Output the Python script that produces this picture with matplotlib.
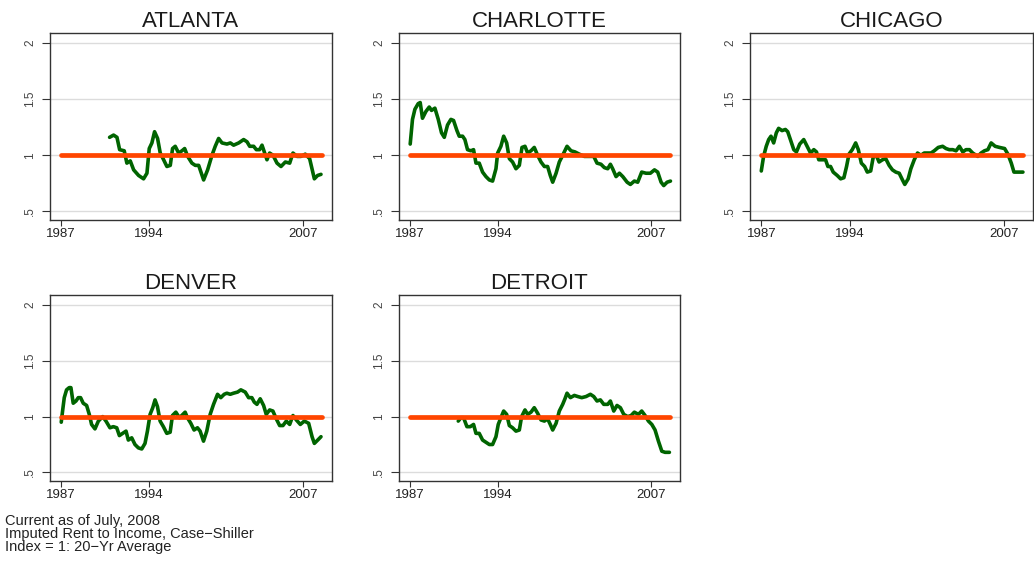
import matplotlib
matplotlib.use("Agg")
from matplotlib import pyplot as plt

plt.rcParams['font.family'] = ['Liberation Sans', 'DejaVu Sans']

# years after 1987 and the index value
atl_t = [4.0, 4.33, 4.61, 4.83, 5.21, 5.43, 5.71, 5.99, 6.40, 6.81, 7.09, 7.28, 7.50, 7.72,
         7.97, 8.19, 8.47, 8.74, 9.02, 9.21, 9.43, 9.71, 9.99, 10.21, 10.46, 10.81, 11.09,
         11.37, 11.78, 12.11, 12.47, 12.74, 13.02, 13.30, 13.71, 13.99, 14.26, 14.68, 15.09,
         15.37, 15.59, 15.92, 16.14, 16.41, 16.61, 17.02, 17.24, 17.52, 17.85, 18.18, 18.54,
         18.90, 19.17, 19.50, 19.83, 20.19, 20.55, 20.94, 21.21, 21.49]
atl_v = [1.16, 1.18, 1.16, 1.05, 1.04, 0.93, 0.95, 0.87, 0.82, 0.79, 0.84, 1.06, 1.11, 1.21,
         1.15, 1.02, 0.96, 0.90, 0.91, 1.06, 1.08, 1.02, 1.04, 1.06, 0.99, 0.93, 0.91,
         0.91, 0.78, 0.87, 1.00, 1.08, 1.15, 1.11, 1.10, 1.11, 1.09, 1.11, 1.14,
         1.12, 1.08, 1.08, 1.05, 1.05, 1.09, 0.96, 1.02, 1.00, 0.93, 0.90, 0.94,
         0.93, 1.02, 0.99, 0.99, 1.01, 0.97, 0.79, 0.82, 0.83]

clt_t = [0.0, 0.19, 0.39, 0.66, 0.83, 1.02, 1.30, 1.58, 1.77, 2.05, 2.33, 2.60, 2.83, 3.10,
         3.38, 3.60, 3.88, 4.07, 4.35, 4.54, 4.76, 5.04, 5.26, 5.46, 5.73, 6.01, 6.29, 6.57,
         6.84, 7.12, 7.26, 7.53, 7.76, 8.01, 8.23, 8.50, 8.78, 9.06, 9.28, 9.53, 9.75, 10.03,
         10.30, 10.58, 10.86, 11.14, 11.41, 11.63, 11.83, 12.11, 12.38, 12.66, 13.02, 13.35,
         13.68, 14.04, 14.46, 14.88, 15.24, 15.51, 15.84, 16.12, 16.40, 16.62, 16.81, 17.09,
         17.37, 17.65, 18.01, 18.28, 18.61, 18.89, 19.22, 19.58, 19.94, 20.28, 20.55, 20.83,
         21.05, 21.33, 21.61]
clt_v = [1.10, 1.32, 1.41, 1.46, 1.47, 1.33, 1.39, 1.43, 1.40, 1.42, 1.32, 1.20, 1.16, 1.27,
         1.32, 1.31, 1.22, 1.17, 1.17, 1.14, 1.05, 1.04, 1.05, 0.93, 0.93, 0.85, 0.81, 0.78,
         0.77, 0.88, 1.02, 1.08, 1.17, 1.11, 0.97, 0.94, 0.88, 0.91, 1.07, 1.08, 1.02, 1.04,
         1.07, 1.00, 0.94, 0.90, 0.90, 0.82, 0.76, 0.84, 0.94, 1.00, 1.08, 1.04,
         1.03, 1.01, 0.99, 0.99, 0.99, 0.93, 0.92, 0.89, 0.88, 0.92, 0.88, 0.81,
         0.84, 0.81, 0.76, 0.74, 0.77, 0.76, 0.85, 0.84, 0.84, 0.87, 0.85, 0.76,
         0.73, 0.76, 0.77]

chi_t = [0.0, 0.19, 0.41, 0.61, 0.80, 1.02, 1.24, 1.43, 1.71, 1.99, 2.18, 2.40, 2.68, 2.90,
         3.17, 3.50, 3.78, 4.06, 4.33, 4.55, 4.74, 5.02, 5.30, 5.49, 5.71, 5.93, 6.26, 6.54,
         6.81, 7.03, 7.23, 7.50, 7.78, 8.00, 8.25, 8.52, 8.74, 9.02, 9.24, 9.52, 9.71, 9.99,
         10.26, 10.54, 10.81, 11.09, 11.37, 11.64, 11.83, 12.11, 12.33, 12.61, 12.88, 13.16,
         13.43, 13.71, 13.99, 14.26, 14.59, 14.95, 15.23, 15.50, 15.78, 16.06, 16.33, 16.61,
         16.88, 17.16, 17.43, 17.85, 18.12, 18.40, 18.68, 18.95, 19.28, 19.64, 20.06, 20.33,
         20.61, 20.83, 21.16, 21.57]
chi_v = [0.86, 0.99, 1.08, 1.14, 1.17, 1.11, 1.20, 1.24, 1.22, 1.23, 1.21, 1.14, 1.05, 1.03,
         1.10, 1.14, 1.08, 1.02, 1.05, 1.03, 0.96, 0.96, 0.96, 0.90, 0.90, 0.85, 0.82, 0.79,
         0.80, 0.90, 1.01, 1.05, 1.11, 1.05, 0.93, 0.90, 0.85, 0.86, 0.99, 0.99, 0.94, 0.96,
         0.97, 0.91, 0.87, 0.85, 0.84, 0.78, 0.74, 0.79, 0.88, 0.96, 1.02, 1.00,
         1.02, 1.02, 1.02, 1.04, 1.07, 1.08, 1.06, 1.05, 1.05, 1.04, 1.08, 1.03,
         1.05, 1.05, 1.02, 0.99, 1.02, 1.04, 1.05, 1.11, 1.08, 1.07, 1.06, 1.01,
         0.93, 0.85, 0.85, 0.85]

den_t = [0.0, 0.11, 0.25, 0.44, 0.66, 0.80, 0.99, 1.22, 1.41, 1.60, 1.82, 2.10, 2.32, 2.51,
         2.79, 3.07, 3.43, 3.70, 4.03, 4.31, 4.59, 4.81, 5.08, 5.36, 5.55, 5.83, 6.10, 6.38,
         6.66, 6.93, 7.13, 7.35, 7.57, 7.76, 7.96, 8.18, 8.45, 8.73, 9.01, 9.20, 9.48, 9.78,
         9.97, 10.25, 10.44, 10.72, 10.99, 11.27, 11.49, 11.77, 12.04, 12.32, 12.60, 12.93,
         13.20, 13.48, 13.70, 13.98, 14.25, 14.59, 14.86, 15.22, 15.50, 15.77, 15.97, 16.19,
         16.46, 16.74, 16.96, 17.24, 17.51, 17.79, 18.07, 18.34, 18.62, 18.90, 19.17, 19.45,
         19.78, 20.11, 20.47, 20.75, 20.94, 21.22, 21.49]
den_v = [0.95, 1.05, 1.17, 1.24, 1.26, 1.26, 1.12, 1.14, 1.17, 1.17, 1.12, 1.10, 1.02, 0.93,
         0.89, 0.96, 1.00, 0.96, 0.90, 0.91, 0.90, 0.83, 0.85, 0.87, 0.79, 0.81, 0.75, 0.72,
         0.71, 0.76, 0.87, 1.02, 1.08, 1.15, 1.09, 0.96, 0.91, 0.85, 0.86, 1.01, 1.04, 0.99,
         1.01, 1.04, 0.99, 0.94, 0.88, 0.90, 0.87, 0.78, 0.87, 1.02, 1.11, 1.20,
         1.17, 1.20, 1.21, 1.20, 1.21, 1.22, 1.24, 1.22, 1.17, 1.17, 1.13, 1.11,
         1.16, 1.10, 1.02, 1.06, 1.05, 0.98, 0.92, 0.92, 0.96, 0.93, 1.01, 0.97,
         0.93, 0.96, 0.94, 0.82, 0.76, 0.79, 0.82]

det_t = [3.99, 4.21, 4.43, 4.71, 4.99, 5.26, 5.46, 5.73, 6.01, 6.29, 6.57, 6.84, 7.12, 7.31,
         7.53, 7.76, 8.01, 8.23, 8.50, 8.78, 9.06, 9.25, 9.53, 9.75, 10.03, 10.30, 10.58,
         10.86, 11.14, 11.41, 11.63, 11.83, 12.11, 12.38, 12.66, 12.85, 13.02, 13.30, 13.63,
         13.91, 14.24, 14.60, 14.96, 15.24, 15.51, 15.79, 16.07, 16.40, 16.62, 16.90, 17.17,
         17.45, 17.73, 18.06, 18.34, 18.61, 18.95, 19.22, 19.50, 19.78, 20.06, 20.33, 20.61,
         20.89, 21.16, 21.52]
det_v = [0.96, 0.99, 0.99, 0.91, 0.91, 0.93, 0.85, 0.85, 0.79, 0.77, 0.75, 0.75, 0.82, 0.93,
         0.99, 1.05, 1.02, 0.92, 0.90, 0.87, 0.88, 1.00, 1.06, 1.02, 1.04, 1.08, 1.03,
         0.97, 0.96, 0.98, 0.93, 0.88, 0.94, 1.05, 1.11, 1.16, 1.21, 1.17, 1.19,
         1.18, 1.17, 1.18, 1.20, 1.18, 1.14, 1.15, 1.11, 1.11, 1.14, 1.05, 1.10,
         1.08, 1.02, 1.00, 1.01, 1.04, 1.02, 1.05, 1.01, 0.96, 0.93, 0.88, 0.78,
         0.69, 0.68, 0.68]

cities = ["ATLANTA", "CHARLOTTE", "CHICAGO", "DENVER", "DETROIT"]
series = [(atl_t, atl_v), (clt_t, clt_v), (chi_t, chi_v), (den_t, den_v), (det_t, det_v)]

base_year = 1987
avg_span = (1987, 2008.6)   # the 20-yr average line
avg_level = 1.0
y_ticks = [0.5, 1, 1.5, 2]
y_labels = [".5", "1", "1.5", "2"]
x_ticks = [1987, 1994.28, 2007]
x_labels = ["1987", "1994", "2007"]

note = ("Current as of July, 2008\n"
        "Imputed Rent to Income, Case\u2212Shiller\n"
        "Index = 1: 20\u2212Yr Average")

W, H = 1034, 561
# left, top, right, bottom in pixels for each panel
boxes = [(50, 33, 332, 220), (399, 33, 680, 220), (750, 33, 1033, 220),
         (50, 295, 332, 481), (399, 295, 680, 481)]


def draw_panel(ax, name, t, v):
    x = [base_year + a for a in t]
    ax.plot(avg_span, [avg_level, avg_level], color='#ff4500', lw=3.4,
            solid_capstyle='round', zorder=4)
    ax.plot(x, v, color='#006400', lw=2.6, solid_joinstyle='round',
            solid_capstyle='round', zorder=3)
    ax.set_xlim(1986.07, 2009.4)
    ax.set_ylim(0.423, 2.09)
    ax.set_yticks(y_ticks)
    ax.set_yticklabels(y_labels, rotation=90, va='center', color='#444444', fontsize=8.5)
    ax.set_xticks(x_ticks)
    ax.set_xticklabels(x_labels, fontsize=9.5, color='#222222')
    ax.tick_params(axis='y', length=6, width=0.8, color='#333333', pad=4)
    ax.tick_params(axis='x', length=4, width=0.8, color='#333333', pad=1.5)
    ax.grid(axis='y', color='#dcdcdc', lw=1.0, zorder=0)
    ax.set_axisbelow(True)
    for s in ax.spines.values():
        s.set_color('#333333')
        s.set_linewidth(1.0)
    ax.set_title(name, fontsize=16, color='#1a1a1a', pad=4)


fig = plt.figure(figsize=(W / 100, H / 100), dpi=100)
for (name, (t, v)), (l, tp, r, b) in zip(zip(cities, series), boxes):
    ax = fig.add_axes([l / W, (H - b) / H, (r - l) / W, (b - tp) / H])
    draw_panel(ax, name, t, v)

fig.text(5 / W, 1 - 514 / H, note, fontsize=10.5, va='top', ha='left',
         color='#222222', linespacing=0.9)

fig.savefig("out.png", dpi=100, facecolor='white')
